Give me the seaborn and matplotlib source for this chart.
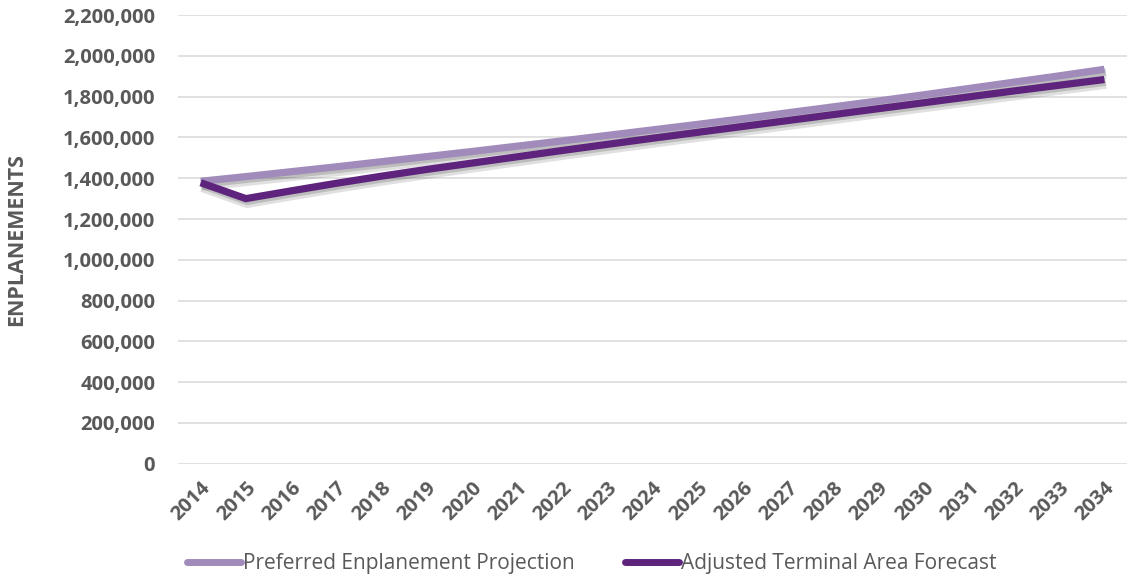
"""
Enplanement forecast comparison: preferred projection vs adjusted TAF.
"""
import numpy as np
import pandas as pd
import matplotlib
matplotlib.use("Agg")
import matplotlib.pyplot as plt
import matplotlib.patheffects as pe
from matplotlib.ticker import FuncFormatter
import seaborn as sns

# ── Data ──
YEARS = list(range(2014, 2035))
PREFERRED = [1385000, 1408000, 1432000, 1456000, 1481000, 1506000, 1531000,
             1557000, 1583000, 1610000, 1637000, 1664000, 1692000, 1721000,
             1750000, 1779000, 1809000, 1840000, 1871000, 1902000, 1934000]
ADJUSTED_TAF = [1378000, 1300000, 1338000, 1375000, 1410000, 1443000, 1474000,
                1505000, 1536000, 1566000, 1596000, 1625000, 1654000, 1683000,
                1712000, 1741000, 1770000, 1799000, 1828000, 1856000, 1884000]
SERIES = ['Preferred Enplanement Projection', 'Adjusted Terminal Area Forecast']
COLORS = ['#A18BBA', '#5E237D']
Y_TICKS = list(range(0, 2200001, 200000))

df = pd.DataFrame({
    'Year': YEARS * 2,
    'Enplanements': PREFERRED + ADJUSTED_TAF,
    'Series': [SERIES[0]] * len(YEARS) + [SERIES[1]] * len(YEARS),
})

sns.set_theme(style='white')
plt.rcParams['font.family'] = ['Open Sans', 'DejaVu Sans']
TXT = '#595959'

fig = plt.figure(figsize=(11.27, 5.79), dpi=100)
ax = fig.add_axes([0.158, 0.199, 0.842, 0.775])

sns.lineplot(data=df, x='Year', y='Enplanements', hue='Series',
             palette=dict(zip(SERIES, COLORS)), hue_order=SERIES,
             linewidth=5.2, sort=False, legend=False, ax=ax)

shadow = [pe.SimpleLineShadow(offset=(1, -3), shadow_color='#555555', alpha=0.18, linewidth=7.5),
          pe.SimpleLineShadow(offset=(1, -2), shadow_color='#333333', alpha=0.2),
          pe.Normal()]
for line in ax.get_lines():
    line.set_solid_capstyle('butt')
    line.set_solid_joinstyle('miter')
    line.set_path_effects(shadow)

ax.set_xlim(2013.5, 2034.5)
ax.set_ylim(0, 2200000)
ax.set_yticks(Y_TICKS)
ax.yaxis.set_major_formatter(FuncFormatter(lambda v, p: f'{int(v):,}'))
ax.set_xticks(YEARS)
ax.set_xticklabels([str(y) for y in YEARS], rotation=45, ha='right',
                   rotation_mode='anchor')
ax.tick_params(axis='both', length=0, labelcolor=TXT)
ax.tick_params(axis='y', pad=16.5, labelsize=14.5)
ax.tick_params(axis='x', pad=10, labelsize=14.5)
for lab in ax.get_xticklabels() + ax.get_yticklabels():
    lab.set_fontweight('bold')

ax.grid(axis='y', color='#D9D9D9', linewidth=1.1)
ax.set_axisbelow(True)
for sp in ax.spines.values():
    sp.set_visible(False)

ax.set_xlabel('')
ax.set_ylabel('ENPLANEMENTS', fontsize=15.5, fontweight='bold', color=TXT)
ax.yaxis.set_label_coords(-0.159, 0.5)

handles = [plt.Line2D([0], [0], color=c, linewidth=5, solid_capstyle='round')
           for c in COLORS]
fig.legend(handles, SERIES, loc='center', bbox_to_anchor=(0.525, 0.027),
           ncol=2, frameon=False, fontsize=15, handlelength=2.6,
           handletextpad=0.1, columnspacing=2.4, labelcolor=TXT)

fig.savefig('out.png', dpi=100, facecolor='white')
plt.close(fig)
